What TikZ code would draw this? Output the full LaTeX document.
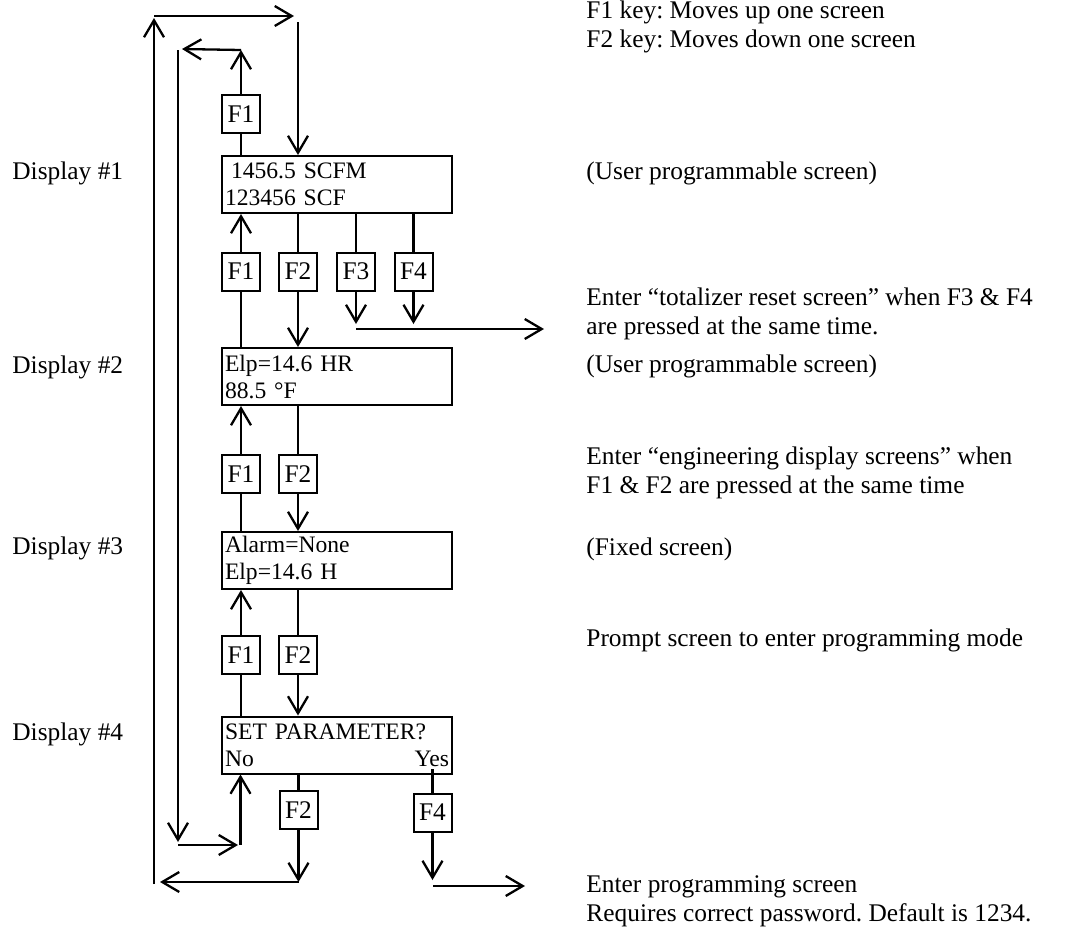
\documentclass[tikz,border=0pt]{standalone}
\usepackage{fontspec}
\setmainfont{Liberation Serif}
\usetikzlibrary{arrows.meta}
\frenchspacing
\begin{document}
\begin{tikzpicture}[x=0.5pt,y=-0.5pt,
  every node/.style={font=\fontsize{12.7}{14.5}\selectfont},
  ln/.style={line width=1.15pt},
  arr/.style={ln,-{Straight Barb[length=8.5pt,width=10pt]}},
  disp/.style={draw,line width=1pt,minimum width=115pt,minimum height=28.5pt,
    text width=112pt,inner sep=1.5pt,align=left,font=\fontsize{11.8}{13.5}\selectfont},
  key/.style={draw,line width=1pt,minimum width=19pt,minimum height=19pt,inner sep=0pt},
  lab/.style={anchor=west,inner sep=0pt,align=left}]
\useasboundingbox (0,0) rectangle (1067,928);

% display boxes
\node[disp] (d1) at (337,184.5) {\hspace{3pt}1456.5 SCFM\\123456 SCF};
\node[disp] (d2) at (337,376.5) {Elp=14.6 HR\\88.5 °F};
\node[disp] (d3) at (337,560.5) {Alarm=None\\Elp=14.6 H};
\node[disp] (d4) at (337,745) {SET PARAMETER?\\No\hfill Yes};

% keys
\node[key] (k0) at (241,114) {F1};
\node[key] (k1a) at (241,271.5) {F1};
\node[key] (k1b) at (298,271.5) {F2};
\node[key] (k1c) at (356,271.5) {F3};
\node[key] (k1d) at (413.5,271.5) {F4};
\node[key] (k2a) at (241,474) {F1};
\node[key] (k2b) at (298,474) {F2};
\node[key] (k3a) at (241,655) {F1};
\node[key] (k3b) at (298,655) {F2};
\node[key] (k4b) at (298.5,810) {F2};
\node[key] (k4d) at (432.5,812.5) {F4};

% coordinates
\coordinate (t1) at (241,50);
\coordinate (t2) at (182,49);
\coordinate (t3) at (178,50);
\coordinate (t4) at (178,842);
\coordinate (t5) at (178,845);
\coordinate (t6) at (238,845);
\coordinate (t7) at (240.5,845);
\coordinate (o1) at (154,884);
\coordinate (o2) at (154,18);
\coordinate (o3) at (154,16);
\coordinate (o4) at (294,16);
\coordinate (o5) at (298,22);
\coordinate (b1) at (298.5,882);
\coordinate (b2) at (160,882);
\coordinate (r1) at (356,324);
\coordinate (r2) at (413.5,324);
\coordinate (r3) at (356,329);
\coordinate (r4) at (544,329);
\coordinate (y1) at (432.5,769);
\coordinate (y2) at (432.5,880);
\coordinate (y3) at (433,886);
\coordinate (y4) at (525,886);

% display 1 up (F1) loop
\draw[ln] (k0 |- d1.north) -- (k0.south);
\draw[arr] (k0.north) -- (t1);
\draw[arr] (t1) -- (t2);
\draw[arr] (t3) -- (t4);
\draw[arr] (t5) -- (t6);
\draw[arr] (t7) -- (t7 |- d4.south);

% outer loop
\draw[arr] (k4b.south) -- (b1);
\draw[arr] (b1) -- (b2);
\draw[arr] (o1) -- (o2);
\draw[arr] (o3) -- (o4);
\draw[arr] (o5) -- (o5 |- d1.north);

% display 1 keys
\draw[arr] (k1a.north) -- (k1a |- d1.south);
\draw[ln] (k1a.south) -- (k1a |- d2.north);
\draw[ln] (k1b |- d1.south) -- (k1b.north);
\draw[arr] (k1b.south) -- (k1b |- d2.north);
\draw[ln] (k1c |- d1.south) -- (k1c.north);
\draw[arr] (k1c.south) -- (r1);
\draw[ln] (k1d |- d1.south) -- (k1d.north);
\draw[arr] (k1d.south) -- (r2);
\draw[arr] (r3) -- (r4);

% display 2 keys
\draw[arr] (k2a.north) -- (k2a |- d2.south);
\draw[ln] (k2a.south) -- (k2a |- d3.north);
\draw[ln] (k2b |- d2.south) -- (k2b.north);
\draw[arr] (k2b.south) -- (k2b |- d3.north);

% display 3 keys
\draw[arr] (k3a.north) -- (k3a |- d3.south);
\draw[ln] (k3a.south) -- (k3a |- d4.north);
\draw[ln] (k3b |- d3.south) -- (k3b.north);
\draw[arr] (k3b.south) -- (k3b |- d4.north);

% display 4 keys
\draw[ln] (k4b |- d4.south) -- (k4b.north);
\draw[ln] (y1) -- (k4d.north);
\draw[arr] (k4d.south) -- (y2);
\draw[arr] (y3) -- (y4);

% left labels
\node[lab] (l1) at (12,173) {Display \#1};
\node[lab] (l2) at (12,367) {Display \#2};
\node[lab] (l3) at (12,548) {Display \#3};
\node[lab] (l4) at (12,734) {Display \#4};

% right texts
\node[lab] (n0) at (586,27) {F1 key: Moves up one screen\\F2 key: Moves down one screen};
\node[lab] (n1) at (586,173) {(User programmable screen)};
\node[lab] (n2) at (586,314) {Enter “totalizer reset screen” when F3 \& F4\\are pressed at the same time.};
\node[lab] (n3) at (586,366) {(User programmable screen)};
\node[lab] (n4) at (586,473) {Enter “engineering display screens” when\\F1 \& F2 are pressed at the same time};
\node[lab] (n5) at (586,549) {(Fixed screen)};
\node[lab] (n6) at (586,640) {Prompt screen to enter programming mode};
\node[lab] (n7) at (586,901) {Enter programming screen\\Requires correct password. Default is 1234.};
\end{tikzpicture}
\end{document}
